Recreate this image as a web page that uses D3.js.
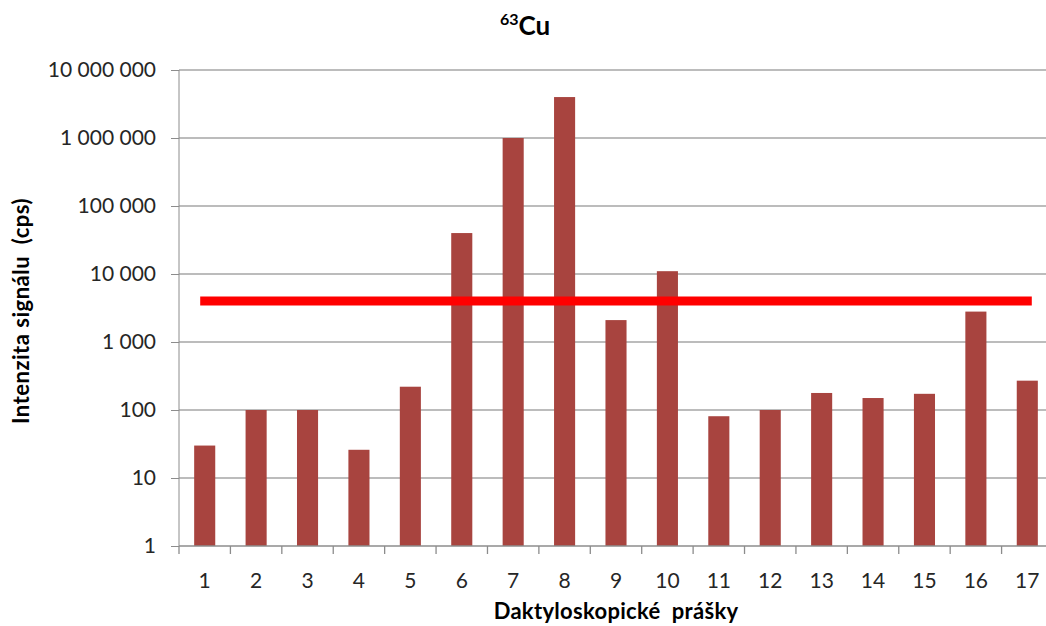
<!DOCTYPE html>
<html>
<head>
<meta charset="utf-8">
<script src="https://cdn.jsdelivr.net/npm/d3@7"></script>
<style>
  body { margin: 0; background: #fff; }
  text { font-family: Lato, "Open Sans", sans-serif; fill: #262626; }
</style>
</head>
<body>
<svg id="chart" width="1046" height="626"></svg>
<script>
// category labels (powder numbers)
var powders = ["1","2","3","4","5","6","7","8","9","10","11","12","13","14","15","16","17"];
// 63Cu signal intensity, cps
var signal = [30, 100, 100, 26, 220, 40000, 1000000, 4000000, 2100, 11000, 81, 100, 178, 150, 173, 2800, 270];
// horizontal limit line
var limitValue = 4000;
var yTicks = [1, 10, 100, 1000, 10000, 100000, 1000000, 10000000];

var svg = d3.select("#chart");

var x = d3.scaleBand()
    .domain(powders)
    .range([179, 1053])
    .paddingInner(0.59)
    .paddingOuter(0.295);

var y = d3.scaleLog()
    .domain([1, 1e7])
    .range([546, 70]);

var fmt = d3.formatLocale({ decimal: ",", thousands: "\u00a0", grouping: [3], currency: ["", ""] }).format(",d");

// gridlines
svg.append("g")
    .selectAll("line")
    .data(yTicks.slice(1))
    .enter().append("line")
    .attr("x1", 179)
    .attr("x2", 1046)
    .attr("y1", function (d) { return y(d); })
    .attr("y2", function (d) { return y(d); })
    .style("stroke", "#a6a6a6")
    .style("stroke-width", 1.3);

// y axis
var yAxis = svg.append("g")
    .attr("transform", "translate(179,0)")
    .call(d3.axisLeft(y).tickValues(yTicks).tickFormat(fmt).tickSize(8).tickPadding(15));
yAxis.select(".domain").attr("stroke", "#8c8c8c").attr("d", "M0,70V546");
yAxis.selectAll(".tick line").attr("stroke", "#8c8c8c");
yAxis.selectAll("text")
    .style("font-size", "21px")
    .style("font-family", "Lato, sans-serif")
    .attr("fill", "#262626");

// bars
svg.append("g")
    .selectAll("rect")
    .data(signal)
    .enter().append("rect")
    .attr("x", function (d, i) { return x(powders[i]); })
    .attr("width", x.bandwidth())
    .attr("y", function (d) { return y(d); })
    .attr("height", function (d) { return y(1) - y(d); })
    .attr("fill", "#a8443f");

// x axis
var step = x.step();
var xAxis = svg.append("g").attr("transform", "translate(0,546)");
xAxis.append("line")
    .attr("x1", 179).attr("x2", 1053)
    .style("stroke", "#8c8c8c").style("stroke-width", 1.3);
xAxis.selectAll(".tk")
    .data(d3.range(powders.length + 1))
    .enter().append("line")
    .attr("x1", function (i) { return 179 + i * step; })
    .attr("x2", function (i) { return 179 + i * step; })
    .attr("y1", 0).attr("y2", 8)
    .style("stroke", "#8c8c8c").style("stroke-width", 1.3);
xAxis.selectAll(".lbl")
    .data(powders)
    .enter().append("text")
    .attr("x", function (d) { return x(d) + x.bandwidth() / 2; })
    .attr("y", 42)
    .attr("text-anchor", "middle")
    .style("font-size", "21px")
    .text(function (d) { return d; });

// limit line
svg.append("line")
    .attr("x1", x(powders[0]) + x.bandwidth() / 2)
    .attr("x2", x(powders[powders.length - 1]) + x.bandwidth() / 2)
    .attr("y1", y(limitValue))
    .attr("y2", y(limitValue))
    .style("stroke", "#ff0000")
    .style("stroke-width", 9)
    .style("stroke-linecap", "square");

// title
var title = svg.append("text")
    .attr("x", 525)
    .attr("y", 35)
    .attr("text-anchor", "middle")
    .style("font-weight", "bold")
    .style("font-size", "26px")
    .style("fill", "#000");
title.append("tspan").attr("dy", -10).style("font-size", "16px").text("63");
title.append("tspan").attr("dy", 10).text("Cu");

// axis titles
svg.append("text")
    .attr("x", 616)
    .attr("y", 619)
    .attr("text-anchor", "middle")
    .style("font-weight", "bold")
    .style("font-size", "22px")
    .style("letter-spacing", "0.3px")
    .style("fill", "#000")
    .style("white-space", "pre")
    .text("Daktyloskopické  prášky");

svg.append("text")
    .attr("transform", "translate(29,311) rotate(-90)")
    .attr("text-anchor", "middle")
    .style("font-weight", "bold")
    .style("font-size", "22px")
    .style("letter-spacing", "0.5px")
    .style("fill", "#000")
    .style("white-space", "pre")
    .text("Intenzita signálu  (cps)");
</script>
</body>
</html>
